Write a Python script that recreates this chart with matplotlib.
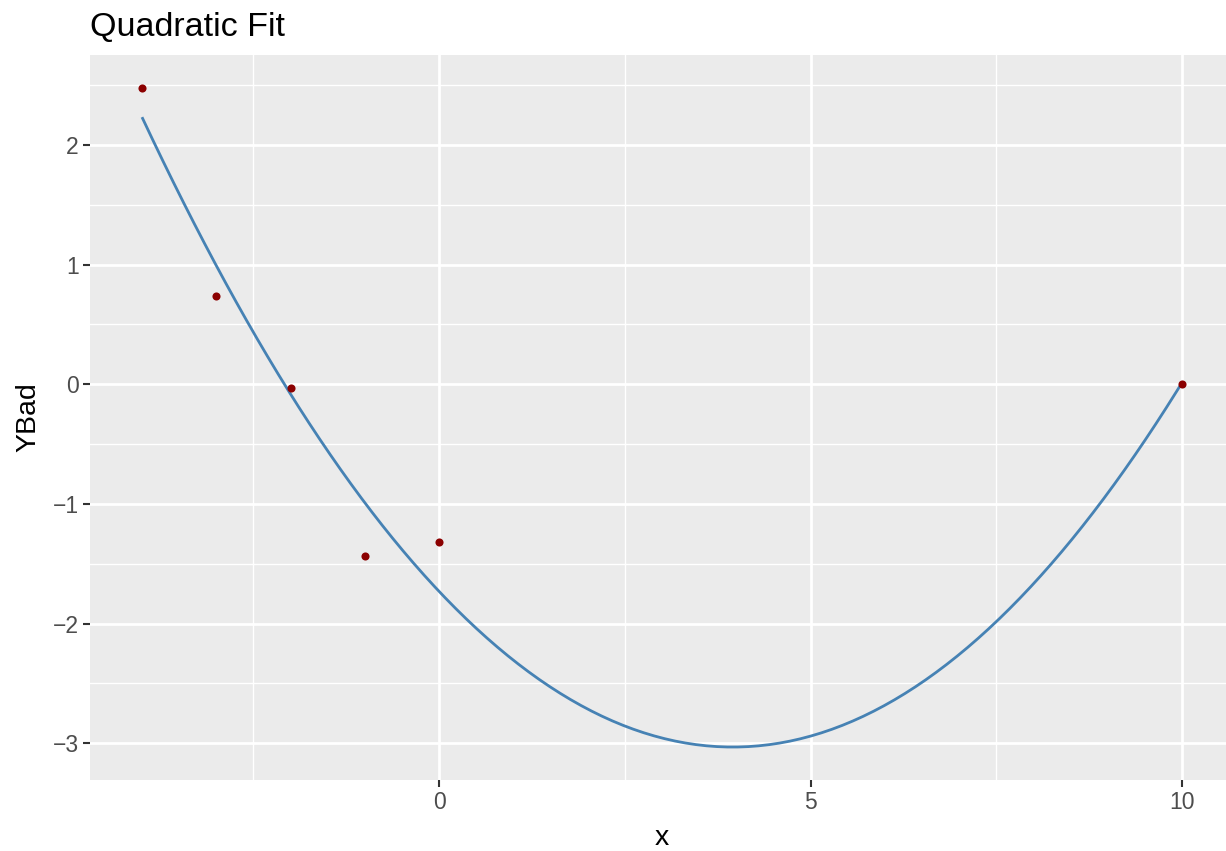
import numpy as np
import matplotlib
matplotlib.use("Agg")
import matplotlib.pyplot as plt
from matplotlib.ticker import MultipleLocator

# Data
x_pts = [-4, -3, -2, -1, 0, 10]
y_pts = [2.477, 0.736, -0.033, -1.431, -1.314, 0.0]
title = "Quadratic Fit"
xlabel = "x"
ylabel = "YBad"
xticks = [0, 5, 10]
yticks = [-3, -2, -1, 0, 1, 2]

# Quadratic fit of the points
coef = np.polyfit(x_pts, y_pts, 2)
xs = np.linspace(min(x_pts), max(x_pts), 200)
ys = np.polyval(coef, xs)

plt.rcParams['font.family'] = ['Liberation Sans', 'DejaVu Sans']

W, H = 1226, 851
fig = plt.figure(figsize=(W / 100, H / 100), dpi=100)
L, R, T, B = 90, 1234, 55, 780
ax = fig.add_axes([L / W, 1 - B / H, (R - L) / W, (B - T) / H])
ax.set_facecolor('#EBEBEB')
for s in ax.spines.values():
    s.set_visible(False)

ax.plot(xs, ys, color='#4682B4', lw=2.0, zorder=3, solid_capstyle='butt')
ax.scatter(x_pts, y_pts, s=34, color='#8B0000', zorder=4, linewidths=0)

xall = np.concatenate([xs, x_pts])
yall = np.concatenate([ys, y_pts])
xr = xall.max() - xall.min()
yr = yall.max() - yall.min()
ax.set_xlim(xall.min() - 0.05 * xr, xall.max() + 0.05 * xr)
ax.set_ylim(yall.min() - 0.05 * yr, yall.max() + 0.05 * yr)

ax.set_xticks(xticks)
ax.set_yticks(yticks)
ax.set_yticklabels([str(v).replace('-', '\u2212') for v in yticks])
ax.xaxis.set_minor_locator(MultipleLocator(2.5))
ax.yaxis.set_minor_locator(MultipleLocator(0.5))
ax.grid(which='major', color='white', lw=2.0)
ax.grid(which='minor', color='white', lw=1.0)
ax.set_axisbelow(True)
ax.tick_params(which='minor', length=0)
ax.tick_params(which='major', length=5, width=1.5, color='#333333',
               labelsize=16.5, labelcolor='#4D4D4D', pad=3)

ax.set_xlabel(xlabel, fontsize=20.5, color='black', labelpad=8)
ax.set_ylabel(ylabel, fontsize=20.5, color='black', labelpad=8)

fig.text(L / W, 1 - 36 / H, title, fontsize=24.5, color='black',
         ha='left', va='baseline')

fig.savefig('out.png', dpi=100)
